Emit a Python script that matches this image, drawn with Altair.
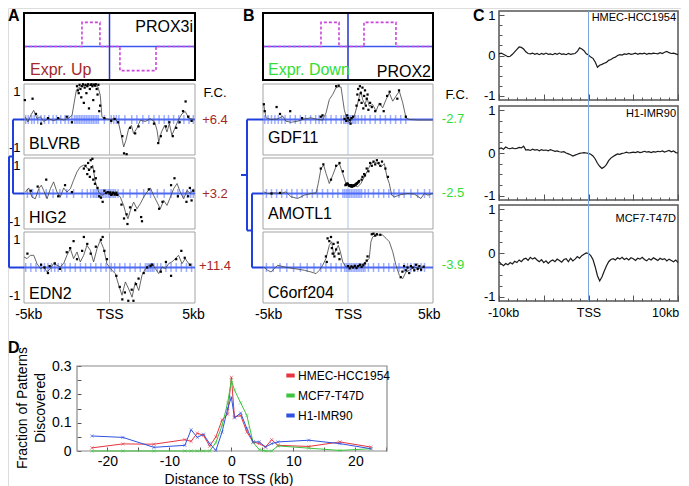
import altair as alt
import pandas as pd

W, H = 673, 478
FONT = "Liberation Sans"

# ---------------- data ----------------
# schematic patterns in headers (kb, level)
patA_kb = [-5, -1.61, -1.61, -0.56, -0.56, 0.61, 0.61, 2.72, 2.72, 5]
patA_lvl = [0, 0, 0.72, 0.72, 0, 0, -0.72, -0.72, 0, 0]
patB_kb = [-5, -1.59, -1.59, -0.53, -0.53, 0.94, 0.94, 2.82, 2.82, 5]
patB_lvl = [0, 0, 0.72, 0.72, 0, 0, 0.72, 0.72, 0, 0]

genesA = ["BLVRB", "HIG2", "EDN2"]
fcA = ["+6.4", "+3.2", "+11.4"]
genesB = ["GDF11", "AMOTL1", "C6orf204"]
fcB = ["-2.7", "-2.5", "-3.9"]

blvrb_line = [(-4.92,0.09),(-4.77,-0.09),(-4.59,0.17),(-4.43,0.33),(-4.24,0.03),(-4.04,0.10),(-3.85,-0.07),(-3.56,0.03),(-3.27,-0.04),(-2.97,0.03),(-2.68,-0.02),(-2.39,0.05),(-2.19,0.15),(-2.06,0.63),(-1.94,1.05),(-1.76,1.17),(-1.51,1.23),(-1.22,1.21),(-0.93,1.26),(-0.67,1.17),(-0.54,0.87),(-0.44,0.09),(-0.24,0.03),(0.05,0.0),(0.34,0.03),(0.54,-0.15),(0.69,-0.57),(0.83,-0.99),(0.96,-0.75),(1.12,-0.33),(1.28,-0.21),(1.41,-0.51),(1.61,-0.31),(1.80,-0.03),(2.10,-0.07),(2.39,0.03),(2.64,-0.09),(2.78,-0.39),(2.88,-0.81),(3.04,-0.45),(3.23,-0.21),(3.36,-0.45),(3.50,-0.15),(3.65,-0.57),(3.85,-0.27),(4.04,0.0),(4.24,0.21),(4.43,0.29),(4.63,0.05),(4.92,0.0)]
blvrb_dots = [(-1.9,1.2),(-1.85,1.05),(-1.8,0.95),(-1.75,1.25),(-1.7,1.1),(-1.65,0.8),(-1.6,1.2),(-1.55,1.27),(-1.5,0.6),(-1.45,1.15),(-1.4,1.25),(-1.35,0.95),(-1.3,1.2),(-1.25,1.27),(-1.2,0.4),(-1.15,1.1),(-1.1,1.25),(-1.05,1.27),(-1.0,1.2),(-0.95,0.7),(-0.9,1.26),(-0.85,1.22),(-0.8,1.27),(-0.75,1.1),(-0.7,0.9),(-0.65,1.25),(-0.6,0.3),(-0.55,0.5),(-4.95,0.7),(-4.5,0.75),(-4.3,0.2),(-4.0,-0.15),(-3.6,0.05),(-3.0,0.05),(-2.5,0.1),(-2.2,-0.1),(-0.3,0.05),(0.1,-0.05),(0.3,0.02),(0.5,-0.1),(0.75,-0.6),(0.85,-1.22),(1.0,-1.25),(1.2,-0.3),(1.5,-0.5),(1.7,-0.25),(2.6,-0.15),(2.85,-0.85),(3.0,-0.6),(3.3,-0.25),(3.5,-0.1),(3.7,-0.6),(3.9,-0.3),(4.1,-0.1),(4.3,0.3),(4.45,0.65),(4.6,0.1),(4.8,-0.05)]
blvrb_marks = [-4.9,-4.75,-4.55,-4.4,-4.2,-4.0,-3.8,-3.55,-3.3,-3.1,-2.85,-2.6,-2.4,-2.2,-2.05,-1.95,-1.85,-1.75,-1.65,-1.55,-1.45,-1.35,-1.25,-1.15,-1.05,-0.95,-0.85,-0.75,-0.65,-0.3,0.1,0.25,0.4,0.55,0.9,1.3,1.6,1.95,2.3,2.6,2.9,3.2,3.45,3.75,4.05,4.35,4.65,4.9]

hig2_line = [(-4.92,0.05),(-4.73,0.2),(-4.53,-0.13),(-4.34,-0.19),(-4.14,0.17),(-3.99,0.3),(-3.85,0.11),(-3.65,-0.19),(-3.46,0.17),(-3.27,0.42),(-3.07,0.05),(-2.88,-0.13),(-2.68,0.2),(-2.49,0.05),(-2.29,0.17),(-2.10,0.48),(-1.90,0.78),(-1.71,0.96),(-1.51,1.02),(-1.32,0.92),(-1.12,0.87),(-0.98,1.02),(-0.83,0.42),(-0.63,0.05),(-0.44,-0.07),(-0.15,0.05),(0.15,0.0),(0.44,0.0),(0.63,-0.13),(0.83,-0.43),(0.96,-0.73),(1.08,-0.91),(1.22,-0.61),(1.41,-0.31),(1.61,-0.55),(1.80,-0.37),(2.0,-0.13),(2.19,0.05),(2.39,0.2),(2.58,-0.07),(2.78,-0.31),(2.97,-0.55),(3.17,-0.25),(3.36,-0.43),(3.56,-0.13),(3.75,0.17),(3.95,0.36),(4.14,0.05),(4.34,-0.19),(4.53,0.11),(4.73,0.0),(4.92,0.17)]
hig2_dots = [(-1.5,0.9),(-1.4,1.0),(-1.3,0.7),(-1.25,1.1),(-1.2,0.85),(-1.15,0.6),(-1.1,1.2),(-1.05,0.95),(-1.0,1.25),(-0.95,0.5),(-0.9,0.8),(-0.85,0.35),(-0.8,0.55),(-0.7,0.2),(-0.6,-0.1),(-0.5,-0.15),(-0.4,-0.3),(-0.3,0.1),(-0.1,0.05),(0.1,-0.05),(0.2,0.03),(0.35,-0.02),(-4.6,0.1),(-4.2,0.25),(-3.7,0.5),(-3.0,-0.1),(-2.6,0.3),(-2.2,0.05),(0.7,-0.4),(0.85,-0.9),(1.0,-0.75),(1.05,-1.1),(1.2,-0.5),(1.5,-0.6),(1.85,-0.85),(1.9,-1.0),(2.3,0.15),(2.9,-0.55),(3.1,-0.3),(3.6,0.3),(3.8,0.55),(4.0,-0.1),(4.5,-0.3),(4.7,0.2),(4.9,0.1),(4.6,-0.1),(4.8,-0.25),(-0.2,0.02),(0.0,0.0),(0.05,0.04),(0.15,-0.03),(0.25,0.02),(0.3,-0.04),(0.4,0.03),(0.45,-0.05)]
hig2_marks = [-4.8,-4.5,-4.1,-3.7,-3.3,-2.9,-2.5,-2.1,-1.6,-1.3,-1.1,-0.95,-0.85,-0.75,-0.65,-0.55,-0.45,-0.35,-0.25,-0.15,-0.05,0.05,0.15,0.25,0.35,0.5,0.8,1.2,1.6,2.0,2.4,2.8,3.2,3.6,4.0,4.3,4.55,4.75,4.9]

edn2_line = [(-5.0,0.38),(-4.82,0.32),(-4.63,0.44),(-4.43,0.44),(-4.24,0.14),(-4.04,-0.04),(-3.85,0.02),(-3.65,-0.16),(-3.46,-0.04),(-3.27,0.14),(-3.07,0.08),(-2.88,0.02),(-2.68,0.14),(-2.49,0.44),(-2.29,0.68),(-2.10,0.32),(-1.90,0.56),(-1.71,0.2),(-1.51,0.44),(-1.32,0.8),(-1.12,0.62),(-0.93,0.2),(-0.73,0.68),(-0.54,0.98),(-0.34,0.68),(-0.15,0.14),(0.05,-0.04),(0.34,-0.22),(0.54,-0.64),(0.73,-1.0),(0.93,-0.52),(1.12,-0.77),(1.32,-1.07),(1.51,-0.52),(1.71,-0.83),(1.90,-0.28),(2.10,-0.04),(2.29,0.08),(2.49,0.14),(2.68,-0.04),(2.88,-0.22),(3.07,0.02),(3.27,-0.04),(3.46,0.14),(3.65,0.2),(3.85,0.32),(4.04,0.44),(4.24,0.14),(4.43,0.32),(4.63,0.14),(4.82,0.08)]
edn2_dots = [(-4.8,0.5),(-4.0,0.1),(-3.6,-0.2),(-3.2,0.15),(-2.5,0.55),(-2.3,0.7),(-2.1,0.95),(-1.9,0.3),(-1.6,0.6),(-1.5,1.1),(-1.3,0.85),(-1.1,0.5),(-0.8,0.75),(-0.5,1.0),(-0.4,1.1),(-0.3,0.6),(-0.15,0.3),(0.4,-0.3),(0.6,-0.7),(0.75,-1.15),(0.9,-0.9),(1.1,-1.2),(1.3,-0.8),(1.4,-1.2),(1.55,-0.6),(1.7,-0.4),(2.0,-0.2),(2.5,0.1),(3.0,-0.15),(3.3,0.2),(3.6,-0.3),(3.9,0.3),(4.2,0.6),(4.4,0.35),(4.7,0.1),(-3.8,0.0),(-3.5,0.05),(-2.9,-0.05),(2.2,0.0),(2.4,0.05)]
edn2_marks = [-4.9,-4.6,-4.3,-4.0,-3.8,-3.6,-3.4,-3.2,-3.0,-2.8,-2.6,-2.3,-2.0,-1.7,-1.4,-1.1,-0.8,-0.5,-0.2,0.1,0.3,0.6,0.9,1.2,1.5,1.8,2.1,2.2,2.3,2.4,2.5,2.6,2.8,3.0,3.3,3.6,3.9,4.2,4.5,4.8]

gdf11_line = [(-4.96,0.54),(-4.82,0.06),(-4.53,0.0),(-4.14,0.02),(-3.84,0.12),(-3.65,-0.06),(-3.35,-0.1),(-2.96,-0.06),(-2.57,0.02),(-2.18,0.06),(-1.78,0.0),(-1.49,-0.02),(-1.29,0.24),(-1.10,0.72),(-0.90,0.9),(-0.71,1.14),(-0.57,1.18),(-0.41,1.17),(-0.22,0.36),(-0.06,0.0),(0.08,-0.12),(0.22,0.0),(0.37,0.12),(0.53,0.48),(0.67,0.84),(0.76,1.02),(0.86,0.72),(1.0,0.54),(1.12,0.78),(1.25,0.48),(1.45,0.54),(1.65,0.3),(1.84,0.6),(2.04,0.42),(2.24,0.72),(2.43,0.96),(2.63,0.66),(2.82,0.84),(3.02,1.02),(3.22,0.6),(3.41,0.06),(3.61,0.0),(4.10,-0.02),(4.98,-0.02)]
gdf11_dots = [(0.5,0.5),(0.55,0.9),(0.6,1.1),(0.65,0.7),(0.7,1.2),(0.75,0.95),(0.8,0.6),(0.85,1.15),(0.9,0.4),(0.95,0.85),(1.0,1.05),(1.05,0.5),(1.1,0.75),(1.15,0.9),(1.2,0.35),(1.3,0.6),(1.4,0.45),(-4.95,0.55),(-4.9,0.3),(-4.2,0.45),(-4.0,0.2),(-3.4,0.3),(-2.7,0.05),(-1.6,0.1),(-1.5,0.15),(-0.2,0.02),(-0.1,-0.05),(0.0,0.05),(0.1,-0.02),(0.2,0.05),(0.3,0.1),(0.15,-0.15),(-0.05,0.15),(1.6,0.3),(1.9,0.55),(2.1,0.3),(2.3,0.85),(2.45,1.0),(2.9,0.75),(3.0,1.05),(3.4,0.1),(-0.7,1.2),(-0.55,1.22)]
gdf11_marks = [-4.9,-4.7,-4.5,-4.3,-4.1,-3.9,-3.7,-3.4,-3.1,-2.8,-2.5,-2.2,-1.9,-1.7,-1.5,-1.3,-1.0,-0.7,-0.4,-0.25,-0.15,-0.05,0.05,0.15,0.25,0.35,0.45,0.6,0.8,1.0,1.3,1.6,1.9,2.2,2.5,2.8,3.1,3.4]

amotl1_line = [(-4.96,0.06),(-4.73,0.0),(-4.33,0.02),(-3.94,0.0),(-3.65,0.06),(-3.35,-0.12),(-2.96,-0.18),(-2.57,-0.06),(-2.18,0.0),(-1.88,0.02),(-1.75,0.36),(-1.59,0.9),(-1.43,1.02),(-1.29,0.72),(-1.10,0.36),(-0.90,0.66),(-0.71,0.96),(-0.51,1.08),(-0.31,0.72),(-0.12,0.36),(0.02,0.3),(0.18,0.33),(0.37,0.3),(0.57,0.24),(0.76,0.36),(0.96,0.6),(1.16,0.84),(1.35,1.08),(1.55,1.14),(1.75,1.08),(1.94,0.96),(2.14,1.08),(2.29,0.6),(2.43,0.36),(2.57,-0.06),(2.73,-0.12),(3.12,-0.04),(3.51,0.0),(3.90,-0.02),(4.29,-0.18),(4.49,0.0),(4.69,-0.06),(4.98,0.0)]
amotl1_dots = [(-0.15,0.3),(-0.1,0.33),(-0.05,0.36),(0.0,0.33),(0.05,0.3),(0.1,0.28),(0.15,0.27),(0.2,0.26),(0.25,0.26),(0.3,0.27),(0.35,0.28),(0.4,0.3),(0.45,0.32),(0.5,0.35),(0.55,0.38),(0.6,0.4),(0.65,0.45),(-0.12,0.32),(-0.02,0.35),(0.07,0.29),(0.12,0.27),(0.22,0.25),(0.32,0.27),(0.42,0.31),(0.52,0.36),(0.62,0.42),(0.17,0.3),(0.27,0.29),(0.37,0.3),(0.47,0.34),(0.8,0.5),(0.85,0.6),(0.95,0.7),(1.0,0.65),(1.1,0.9),(1.2,0.8),(1.3,1.1),(1.4,1.0),(1.5,1.15),(1.6,1.05),(1.7,1.2),(1.8,1.1),(1.9,1.0),(2.0,1.15),(2.2,0.9),(2.35,0.6),(-1.6,0.9),(-1.45,1.05),(-1.0,0.5),(-0.7,1.0),(-0.5,1.1),(-0.3,0.8),(-4.5,0.0),(-4.0,0.02)]
amotl1_marks = [-4.8,-4.5,-4.2,-3.9,-3.6,-3.3,-3.0,-2.7,-2.4,-2.1,-1.8,-1.5,-1.2,-0.9,-0.6,-0.3,-0.2,-0.1,0.0,0.1,0.2,0.3,0.4,0.5,0.6,0.7,0.8,1.0,1.2,1.5,1.8,2.1,2.4,2.7,3.0,3.3,3.7,4.1,4.5,4.8]

c6orf204_line = [(-4.96,0.02),(-4.73,-0.1),(-4.53,-0.16),(-4.33,-0.04),(-4.14,0.08),(-3.75,0.02),(-3.16,-0.04),(-2.57,-0.1),(-2.18,-0.16),(-1.88,-0.22),(-1.69,-0.1),(-1.49,0.08),(-1.29,0.33),(-1.10,0.8),(-0.96,0.93),(-0.84,0.45),(-0.71,0.63),(-0.57,0.8),(-0.45,0.57),(-0.31,0.2),(-0.12,0.02),(0.08,0.02),(0.37,0.02),(0.76,0.08),(1.06,0.2),(1.25,0.33),(1.35,0.93),(1.45,1.1),(1.65,1.17),(1.84,1.17),(2.04,1.17),(2.24,1.05),(2.43,0.93),(2.63,0.57),(2.82,0.08),(3.02,-0.28),(3.22,-0.4),(3.41,-0.16),(3.61,-0.1),(3.90,0.02),(4.20,-0.04),(4.49,0.02)]
c6orf204_dots = [(-1.2,1.05),(-1.1,0.95),(-1.0,1.1),(-0.95,0.7),(-0.9,0.5),(-0.85,0.85),(-0.8,0.4),(-0.7,0.65),(-0.6,0.9),(-0.55,0.5),(-0.5,0.3),(-1.3,0.4),(-1.25,0.2),(0.0,0.05),(0.1,-0.03),(0.2,0.04),(0.3,0.0),(0.4,0.06),(0.5,-0.02),(0.6,0.05),(0.7,0.1),(0.8,0.02),(0.9,0.08),(1.0,0.15),(1.1,0.25),(1.15,0.4),(1.4,1.2),(1.5,1.22),(1.6,1.15),(1.7,1.2),(1.9,1.18),(3.1,-0.35),(3.2,-0.15),(3.3,0.05),(3.4,-0.1),(3.5,0.0),(3.6,-0.2),(3.7,0.05),(3.8,0.0),(3.9,-0.1),(4.0,0.1),(4.1,-0.05),(4.2,0.05),(4.3,-0.08),(4.45,0.03)]
c6orf204_marks = [-4.8,-4.4,-4.0,-3.6,-3.2,-2.8,-2.4,-2.0,-1.6,-1.3,-1.0,-0.7,-0.4,-0.2,-0.1,0.0,0.1,0.2,0.3,0.4,0.5,0.6,0.7,0.8,0.9,1.0,1.2,1.5,1.8,2.1,2.4,2.7,3.0,3.3,3.5,3.7,3.9,4.1,4.3,4.5]

# dendrogram segments (merge height, leaf index)
dendA = [(0,0,0.524,0),(0,1,0.524,1),(0.524,0,0.524,1),(0.524,0.5,0.714,0.5),(0,2,0.714,2),(0.714,0.5,0.714,2),(0.714,1.25,1,1.25)]
dendB = [(0,0,0.727,0),(0,1,0.5,1),(0,2,0.5,2),(0.5,1,0.5,2),(0.5,1.5,0.727,1.5),(0.727,0,0.727,1.5),(0.727,0.75,1,0.75)]

# panel C: average profiles, -10..10 kb every 0.25 kb
c_kb = [round(-10 + 0.25 * i, 2) for i in range(81)]
hmec_prof = [0.04,0.06,0.03,0.0,-0.03,-0.02,0.03,0.09,0.15,0.21,0.2,0.16,0.09,0.05,0.04,0.06,0.03,0.05,0.02,0.05,0.03,0.06,0.03,0.04,0.02,0.05,0.03,0.06,0.03,0.04,0.02,0.05,0.03,0.04,0.05,0.1,0.19,0.16,0.12,0.04,0.01,-0.04,-0.07,-0.16,-0.29,-0.24,-0.22,-0.19,-0.17,-0.12,-0.1,-0.06,-0.04,0.0,0.02,0.01,0.04,0.03,0.05,0.03,0.04,0.06,0.03,0.05,0.04,0.06,0.03,0.05,0.04,0.06,0.05,0.04,0.07,0.05,0.08,0.1,0.07,0.05,0.06,0.04,0.02]
h1_prof = [0.1,0.12,0.09,0.14,0.11,0.1,0.12,0.1,0.11,0.13,0.12,0.16,0.07,0.08,0.06,0.09,0.07,0.08,0.05,0.08,0.06,0.07,0.05,0.08,0.06,0.04,0.05,0.03,0.02,0.03,0.0,-0.02,-0.04,-0.07,-0.05,-0.03,-0.01,0.0,0.01,0.0,-0.01,-0.03,-0.07,-0.14,-0.24,-0.31,-0.36,-0.33,-0.27,-0.18,-0.12,-0.08,-0.05,-0.02,-0.03,-0.01,0.0,0.02,0.0,0.01,0.02,0.01,0.03,0.01,0.02,0.04,0.02,0.03,0.01,0.03,0.02,0.04,0.03,0.05,0.02,0.04,0.06,0.03,0.05,0.01,0.0]
mcf7_prof = [-0.2,-0.25,-0.29,-0.24,-0.27,-0.22,-0.25,-0.19,-0.22,-0.16,-0.2,-0.14,-0.12,-0.17,-0.1,-0.14,-0.11,-0.16,-0.2,-0.15,-0.22,-0.18,-0.24,-0.19,-0.16,-0.2,-0.14,-0.17,-0.21,-0.15,-0.13,-0.2,-0.12,-0.18,-0.14,-0.08,-0.12,-0.06,-0.03,0.0,-0.01,-0.06,-0.15,-0.32,-0.52,-0.64,-0.55,-0.42,-0.3,-0.2,-0.15,-0.13,-0.16,-0.11,-0.14,-0.1,-0.15,-0.12,-0.16,-0.11,-0.13,-0.17,-0.12,-0.14,-0.1,-0.15,-0.18,-0.13,-0.16,-0.11,-0.14,-0.17,-0.12,-0.15,-0.13,-0.18,-0.14,-0.17,-0.2,-0.16,-0.22]
c_names = ["HMEC-HCC1954", "H1-IMR90", "MCF7-T47D"]

# panel D
d_kb = [-22.5,-17.5,-12.5,-7.5,-6.5,-5.5,-4.5,-3.5,-2.5,-1.5,-0.6,0.0,0.5,1.5,2.5,3.5,4.5,5.5,6.5,7.5,12.5,17.5,22.5]
d_hmec = [0.011,0.025,0.024,0.04,0.034,0.063,0.055,0.017,0.05,0.11,0.13,0.26,0.12,0.125,0.067,0.032,0.026,0.014,0.04,0.02,0.016,0.032,0.014]
d_mcf7 = [0.0,0.0,0.0,0.0,0.0,0.0,0.0,0.0,0.03,0.09,0.17,0.25,0.215,0.17,0.125,0.03,0.005,0.0,0.0,0.018,0.01,0.002,0.008]
d_h1 = [0.053,0.048,0.013,0.02,0.075,0.048,0.059,0.026,0.002,0.067,0.15,0.19,0.117,0.134,0.079,0.032,0.032,0.014,0.026,0.032,0.038,0.026,0.008]
d_series = ["HMEC-HCC1954", "MCF7-T47D", "H1-IMR90"]
d_colors = ["#e8343f", "#3cc43c", "#2f52e0"]

# ---------------- layout (pixels inside the chart) ----------------
A_X = (16, 187)
B_X = (255, 425)
HEAD_Y = (5, 72)
ROWS = [(76, 147), (150, 221), (224, 295)]
C_X = (491, 670)
C_ROWS = [(3, 92), (98, 192), (197, 293)]
D_X = (69, 379)
D_Y = (358, 443)
GD = [-1.28, 1.28]


def lin(domain, rng):
    return alt.Scale(domain=list(domain), range=list(rng), nice=False, zero=False)


def ax(orient, offset, values, **kw):
    base = dict(orient=orient, offset=offset, values=values, title=None, grid=False,
                labelFont=FONT, labelColor="black", labelFlush=False, labelOverlap=False,
                domain=False)
    base.update(kw)
    return alt.Axis(**base)


def tick_axis(orient, offset, values, size):
    return ax(orient, offset, values, labels=False, ticks=True, tickSize=size,
              tickColor="#555555", tickWidth=1)


def frame(xd, yd, xsc, ysc, stroke, sw, xaxis=None, yaxis=None, sop=1.0):
    df = pd.DataFrame({"x0": [xd[0]], "x1": [xd[1]], "y0": [yd[0]], "y1": [yd[1]]})
    return alt.Chart(df).mark_rect(fillOpacity=0, stroke=stroke, strokeWidth=sw,
                                   strokeOpacity=sop).encode(
        x=alt.X("x0:Q", scale=xsc, axis=xaxis), x2=alt.X2("x1"),
        y=alt.Y("y0:Q", scale=ysc, axis=yaxis), y2=alt.Y2("y1"))


layers = []

# ---- headers ----
def header(xr, pat_kb, pat_lvl):
    xsc = lin([-5, 5], xr)
    ysc = lin([-1, 1], [HEAD_Y[1], HEAD_Y[0]])
    out = []
    out.append(alt.Chart(pd.DataFrame({"a": [-5], "b": [5], "y": [0]})).mark_rule(
        color="#3d55f0", strokeWidth=1.5).encode(
        x=alt.X("a:Q", scale=xsc, axis=None), x2=alt.X2("b"),
        y=alt.Y("y:Q", scale=ysc, axis=None)))
    out.append(alt.Chart(pd.DataFrame({"x": [0], "lo": [-1], "hi": [1]})).mark_rule(
        color="#2233cc", strokeWidth=1.5).encode(
        x=alt.X("x:Q", scale=xsc, axis=None),
        y=alt.Y("lo:Q", scale=ysc, axis=None), y2=alt.Y2("hi")))
    df = pd.DataFrame({"x": pat_kb, "y": pat_lvl, "i": list(range(len(pat_kb)))})
    out.append(alt.Chart(df).mark_line(color="#cc44dd", strokeWidth=1.6,
                                       strokeDash=[3, 2]).encode(
        x=alt.X("x:Q", scale=xsc, axis=None), y=alt.Y("y:Q", scale=ysc, axis=None),
        order=alt.Order("i:Q")))
    out.append(frame([-5, 5], [-1, 1], xsc, ysc, "black", 2))
    return out

layers += header(A_X, patA_kb, patA_lvl)
layers += header(B_X, patB_kb, patB_lvl)

# ---- gene panels ----
def gene(xr, yr, line, dots, marks, show_y, xaxis=None):
    xsc = lin([-5, 5], xr)
    ysc = lin(GD, [yr[1], yr[0]])
    yax = None
    if show_y:
        yax = ax("left", -xr[0], [1, -1], labelPadding=4, labelFontSize=13, ticks=False,
                 tickSize=0, labelExpr="'' + datum.value")
    out = [frame([-5, 5], GD, xsc, ysc, "#a3a3a3", 1, xaxis=xaxis, yaxis=yax)]
    out.append(alt.Chart(pd.DataFrame({"x": [0], "lo": [GD[0]], "hi": [GD[1]]})).mark_rule(
        color="#a9c1e8", strokeWidth=1).encode(
        x=alt.X("x:Q", scale=xsc, axis=None),
        y=alt.Y("lo:Q", scale=ysc, axis=None), y2=alt.Y2("hi")))
    out.append(alt.Chart(pd.DataFrame({"a": [-5], "b": [5], "y": [0]})).mark_rule(
        color="#3352ee", strokeWidth=2, opacity=0.85).encode(
        x=alt.X("a:Q", scale=xsc, axis=None), x2=alt.X2("b"),
        y=alt.Y("y:Q", scale=ysc, axis=None)))
    out.append(alt.Chart(pd.DataFrame({"x": marks, "y": [0] * len(marks)})).mark_tick(
        orient="vertical", size=9, thickness=1.5, color="#4d6bff", opacity=0.55).encode(
        x=alt.X("x:Q", scale=xsc, axis=None), y=alt.Y("y:Q", scale=ysc, axis=None)))
    ldf = pd.DataFrame(line, columns=["x", "y"])
    out.append(alt.Chart(ldf).mark_line(color="#404040", strokeWidth=0.8).encode(
        x=alt.X("x:Q", scale=xsc, axis=None), y=alt.Y("y:Q", scale=ysc, axis=None)))
    ddf = pd.DataFrame(dots, columns=["x", "y"])
    out.append(alt.Chart(ddf).mark_square(size=5, color="black", opacity=1).encode(
        x=alt.X("x:Q", scale=xsc, axis=None), y=alt.Y("y:Q", scale=ysc, axis=None)))
    return out

xlab_offset = 299 - H
axA = ax("bottom", xlab_offset, [-4.75, 0, 4.88], ticks=False, tickSize=0, labelPadding=0,
         labelFontSize=14, labelExpr="datum.value < -1 ? '-5kb' : (datum.value > 1 ? '5kb' : 'TSS')")
axB = ax("bottom", xlab_offset, [-4.7, 0, 4.75], ticks=False, tickSize=0, labelPadding=0,
         labelFontSize=14, labelExpr="datum.value < -1 ? '-5kb' : (datum.value > 1 ? '5kb' : 'TSS')")

dataA = [(blvrb_line, blvrb_dots, blvrb_marks), (hig2_line, hig2_dots, hig2_marks),
         (edn2_line, edn2_dots, edn2_marks)]
dataB = [(gdf11_line, gdf11_dots, gdf11_marks), (amotl1_line, amotl1_dots, amotl1_marks),
         (c6orf204_line, c6orf204_dots, c6orf204_marks)]
for i, (ln, dt, mk) in enumerate(dataA):
    layers += gene(A_X, ROWS[i], ln, dt, mk, True, axA if i == 2 else None)
for i, (ln, dt, mk) in enumerate(dataB):
    layers += gene(B_X, ROWS[i], ln, dt, mk, False, axB if i == 2 else None)

# ---- dendrograms ----
def dendro(segs, rng):
    xsc = lin([0, 1], rng)
    ysc = lin([0, 2], [(ROWS[0][0] + ROWS[0][1]) / 2, (ROWS[2][0] + ROWS[2][1]) / 2])
    df = pd.DataFrame(segs, columns=["h1", "l1", "h2", "l2"])
    return alt.Chart(df).mark_rule(color="#2040dd", strokeWidth=2).encode(
        x=alt.X("h1:Q", scale=xsc, axis=None), x2=alt.X2("h2"),
        y=alt.Y("l1:Q", scale=ysc, axis=None), y2=alt.Y2("l2"))

layers.append(dendro(dendA, [A_X[0], -5]))
layers.append(dendro(dendB, [B_X[0], 233]))

# ---- panel C ----
cx = lin([-10, 10], C_X)
profiles = [hmec_prof, h1_prof, mcf7_prof]
for i, (top, bot) in enumerate(C_ROWS):
    ysc = lin([-1.1, 1.1], [bot, top])
    yl = ax("left", -C_X[0], [1, 0, -1], labelPadding=4, labelFontSize=13, ticks=False,
            tickSize=0, labelExpr="'' + datum.value", labelBaseline="middle")
    xl = None
    if i == 2:
        xl = ax("bottom", 298 - H, [-9.55, 0, 8.55], ticks=False, tickSize=0, labelPadding=0,
                labelFontSize=12.5,
                labelExpr="datum.value < -1 ? '-10kb' : (datum.value > 1 ? '10kb' : 'TSS')")
    layers.append(frame([-10, 10], [-1.1, 1.1], cx, ysc, "#555555", 1.5, xaxis=xl, yaxis=yl))
    df = pd.DataFrame({"x": c_kb, "y": profiles[i]})
    layers.append(alt.Chart(df).mark_line(color="#1a1a1a", strokeWidth=1.2).encode(
        x=alt.X("x:Q", scale=cx, axis=tick_axis("top", -bot, list(range(-10, 11)), 3)),
        y=alt.Y("y:Q", scale=ysc,
                axis=tick_axis("right", C_X[0] - W, [-1, -0.75, -0.5, -0.25, 0, 0.25, 0.5, 0.75, 1], 3))))
    layers.append(frame([-10, 10], [-1.1, 1.1], cx, ysc, "#555555", 1,
                        xaxis=tick_axis("top", -bot, [-10, -5, 0, 5, 10], 6),
                        yaxis=tick_axis("right", C_X[0] - W, [-1, 0, 1], 5), sop=0))

ctss = pd.DataFrame({"x": [0], "lo": [0], "hi": [1]})
layers.append(alt.Chart(ctss).mark_rule(color="#7fa6dc", strokeWidth=1).encode(
    x=alt.X("x:Q", scale=cx, axis=None),
    y=alt.Y("lo:Q", scale=lin([0, 1], [C_ROWS[2][1], C_ROWS[0][0]]), axis=None),
    y2=alt.Y2("hi")))

# ---- panel D ----
dx = lin([-24.9, 25.1], D_X)
dy = lin([0, 0.3], [D_Y[1], D_Y[0]])
d_rows = []
for name, vals in zip(d_series, [d_hmec, d_mcf7, d_h1]):
    for k, v in zip(d_kb, vals):
        d_rows.append({"kb": k, "frac": v, "series": name})
ddf = pd.DataFrame(d_rows)
dcol = alt.Scale(domain=d_series, range=d_colors)

layers.append(frame([-24.9, 25.1], [0, 0.3], dx, dy, "#8a8a8a", 1.2,
                    xaxis=ax("bottom", D_Y[1] - H, [-20, -10, 0, 10, 20], ticks=False, tickSize=0,
                             labelPadding=3, labelFontSize=14, labelExpr="'' + datum.value"),
                    yaxis=ax("left", -D_X[0], [0, 0.1, 0.2, 0.3], ticks=False, tickSize=0,
                             labelPadding=6, labelFontSize=14, labelBaseline="middle",
                             labelExpr="datum.value == 0 ? '0' : format(datum.value, '.1f')")))
layers.append(alt.Chart(ddf).mark_line(strokeWidth=1).encode(
    x=alt.X("kb:Q", scale=dx, axis=tick_axis("top", -D_Y[1], [-25, -20, -15, -10, -5, 0, 5, 10, 15, 20, 25], 4)),
    y=alt.Y("frac:Q", scale=dy, axis=tick_axis("right", D_X[0] - W, [0, 0.05, 0.1, 0.15, 0.2, 0.25, 0.3], 4)),
    color=alt.Color("series:N", scale=dcol, legend=alt.Legend(
        orient="none", legendX=276, legendY=361, title=None, symbolType="stroke",
        symbolStrokeWidth=4, symbolSize=70, labelFontSize=12, labelFont=FONT,
        labelColor="black", rowPadding=3, labelOffset=1, padding=0)),
    detail="series:N"))
layers.append(alt.Chart(ddf).mark_point(shape="M-1,-1L1,1M-1,1L1,-1", size=10, strokeWidth=0.8,
                                        filled=False).encode(
    x=alt.X("kb:Q", scale=dx, axis=None), y=alt.Y("frac:Q", scale=dy, axis=None),
    color=alt.Color("series:N", scale=dcol, legend=None)))

# ---- texts ----
RED, GREEN = "#a3282a", "#33dd33"
txt_left = [("Expr. Up", 22, 67, RED, 16), ("Expr. Down", 260, 67, GREEN, 16)]
for g, yb in zip(genesA, [141, 215, 291]):
    txt_left.append((g, 21, yb, "black", 16))
for g, yb in zip(genesB, [135, 211, 290]):
    txt_left.append((g, 260, yb, "black", 16))
txt_right = [("PROX3i", 185, 24, "black", 16), ("PROX2", 423, 69, "black", 16)]
for n, yb in zip(c_names, [13, 109, 214]):
    txt_right.append((n, 668, yb, "black", 11))
txt_center = [("F.C.", 207, 89, "black", 13), ("F.C.", 449, 91, "black", 13),
              ("Distance to TSS (kb)", 221, 476, "black", 14)]
for f, yb in zip(fcA, [116, 190, 262]):
    txt_center.append((f, 207, yb, RED, 13))
for f, yb in zip(fcB, [115, 189, 261]):
    txt_center.append((f, 445, yb, GREEN, 13))
txt_bold = [("A", 0, 13, "black", 16), ("B", 235, 13, "black", 16), ("C", 465, 13, "black", 16),
            ("D", 0, 345, "black", 16)]
txt_rot = [("Fraction of Patterns", 15, 400, "black", 14), ("Discovered", 33, 400, "black", 14)]


def text_layer(rows, **mk):
    df = pd.DataFrame(rows, columns=["t", "px", "py", "c", "s"])
    return alt.Chart(df).mark_text(font=FONT, **mk).encode(
        x=alt.X("px:Q", scale=None, axis=None), y=alt.Y("py:Q", scale=None, axis=None),
        text="t:N", color=alt.Color("c:N", scale=None), size=alt.Size("s:Q", scale=None))

layers.append(text_layer(txt_left, align="left", baseline="alphabetic"))
layers.append(text_layer(txt_right, align="right", baseline="alphabetic"))
layers.append(text_layer(txt_center, align="center", baseline="alphabetic"))
layers.append(text_layer(txt_bold, align="left", baseline="alphabetic", fontWeight="bold"))
layers.append(text_layer(txt_rot, align="center", baseline="middle", angle=270))

chart = alt.layer(*layers).resolve_scale(
    x="independent", y="independent", color="independent", size="independent"
).properties(
    width=W, height=H, autosize=alt.AutoSizeParams(type="none"), padding=0
).configure_view(strokeWidth=0).configure(background="white")

chart.save("out.html", embed_options={"renderer": "svg", "actions": False})
